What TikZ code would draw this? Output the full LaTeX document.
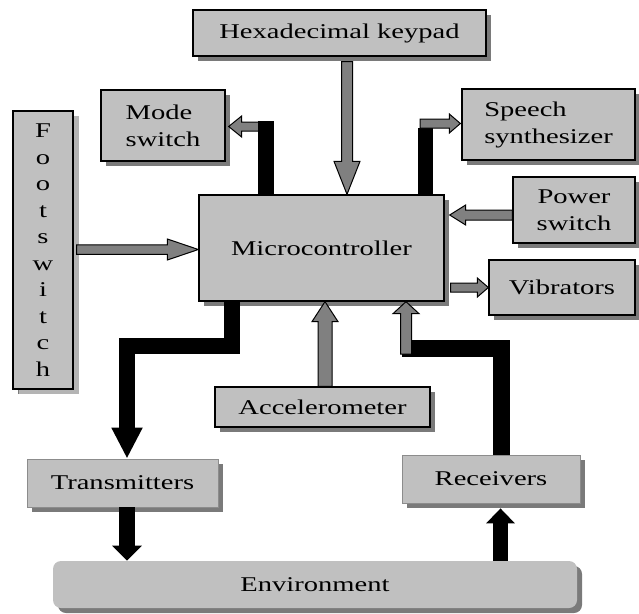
\documentclass[tikz,border=0pt]{standalone}
\usepackage{fontspec}
\setmainfont{Liberation Serif}
\usepackage{graphicx}
\usetikzlibrary{calc,shadows,arrows.meta}
\definecolor{boxgray}{HTML}{C0C0C0}
\definecolor{arrgray}{HTML}{808080}
\definecolor{shgray}{HTML}{7A7A7A}
\definecolor{dotgray}{HTML}{B4B4B4}
\newcommand{\wt}[1]{\scalebox{1.36}[1]{#1}}
% gray outlined block arrow: #1 from, #2 to, #3 half shaft width, #4 half head width, #5 head length
\newcommand{\garrow}[5]{%
  \path (#1) coordinate (ga-s) (#2) coordinate (ga-t);
  \path ($(ga-t)!#5!(ga-s)$) coordinate (ga-h);
  \filldraw[garrowstyle] ($(ga-s)!#3!90:(ga-t)$) -- ($(ga-h)!#3!90:(ga-t)$) -- ($(ga-h)!#4!90:(ga-t)$) -- (ga-t) -- ($(ga-h)!#4!-90:(ga-t)$) -- ($(ga-h)!#3!-90:(ga-t)$) -- ($(ga-s)!#3!-90:(ga-t)$) -- cycle;
}
\tikzset{
  box/.style={draw=black, line width=1.3pt, fill=boxgray, inner sep=0pt,
    font=\fontsize{21}{27}\selectfont,
    drop shadow={shadow xshift=5pt, shadow yshift=-5pt, fill=shgray, draw=none, opacity=1}},
  softbox/.style={box, draw=black!45, line width=0.8pt},
  blk/.style={line width=16pt, black, line join=miter, line cap=butt},
  garrowstyle/.style={fill=arrgray, draw=black, line width=1pt, line join=miter}
}
\begin{document}
\begin{tikzpicture}[x=1pt, y=-1pt]
\useasboundingbox (0,0) rectangle (639,613);

% boxes
\node[box, minimum width=293pt, minimum height=46pt] (hex) at (339.5,33) {\wt{Hexadecimal keypad}};
\node[box, minimum width=124pt, minimum height=71pt, align=left] (mode) at (163,125.5) {\wt{Mode}\\\wt{switch}};
\node[box, minimum width=60pt, minimum height=278pt, align=center, font=\fontsize{21}{26.5}\selectfont,
  drop shadow={shadow xshift=6pt, shadow yshift=-5pt, fill=dotgray, draw=none, opacity=1}] (foot) at (43,250)
  {\wt{F}\\\wt{o}\\\wt{o}\\\wt{t}\\\wt{s}\\\wt{w}\\\wt{i}\\\wt{t}\\\wt{c}\\\wt{h}};
\node[box, minimum width=245pt, minimum height=106pt] (micro) at (321.5,248) {\wt{Microcontroller}};
\node[box, minimum width=173pt, minimum height=71pt, align=left] (speech) at (548.5,124.5) {\wt{Speech}\\\wt{synthesizer}};
\node[box, minimum width=122pt, minimum height=66pt, align=center] (power) at (574,210) {\wt{Power}\\\wt{switch}};
\node[box, minimum width=146pt, minimum height=55pt] (vib) at (562,287.5) {\wt{Vibrators}};
\node[box, minimum width=215pt, minimum height=40pt] (accel) at (322.5,407) {\wt{Accelerometer}};
\node[softbox, minimum width=191pt, minimum height=48pt] (trans) at (122.5,483) {\wt{Transmitters}};
\node[softbox, minimum width=178pt, minimum height=48pt] (recv) at (491,479) {\wt{Receivers}};
\node[softbox, draw=none, rounded corners=8pt, minimum width=524pt, minimum height=47pt] (env) at (315,584.5) {\wt{Environment}};

% helper coordinates
\coordinate (xk) at (347,0);
\coordinate (xa) at (325,0);
\coordinate (xr) at (406,0);
\coordinate (xt) at (127,0);
\coordinate (xe) at (500.5,0);
\coordinate (xm) at (266,0);
\coordinate (xs) at (425.5,0);
\coordinate (yf) at (0,249.5);
\coordinate (yp) at (0,215);
\coordinate (yv) at (0,287.5);
\coordinate (ym) at (0,126.5);
\coordinate (ys) at (0,123.5);
\coordinate (mtop) at (266,121);
\coordinate (stop) at (425.5,128);
\coordinate (sg) at (420,123.5);
\coordinate (c1) at (232,346);
\coordinate (c2) at (127,346);
\coordinate (c3) at (501,348);
\coordinate (c4) at (402,348);
\coordinate (rg) at (406,354);

% black connectors
\draw[blk, -{Triangle[width=29pt,length=31pt]}] (micro.south -| c1) -- (c1) -- (c2) -- (trans.north -| c2);
\draw[blk, -{Triangle[width=29pt,length=15pt]}] (trans.south -| xt) -- (env.north -| xt);
\draw[blk, line width=15pt, shorten >=5pt, -{Triangle[width=28pt,length=15pt]}] (env.north -| xe) -- (recv.south -| xe);
\draw[blk, line width=17pt] (recv.north -| c3) -- (c3) -- (c4);
\draw[blk, line width=15pt] (micro.north -| xs) -- (stop);

% gray arrows
\garrow{$(hex.south -| xk)+(0,5)$}{micro.north -| xk}{5.5pt}{13pt}{33pt}
\garrow{$(foot.east |- yf)+(3,0)$}{micro.west |- yf}{4.75pt}{10.5pt}{31pt}
\garrow{xm |- ym}{$(mode.east |- ym)+(3,0)$}{4.5pt}{10.5pt}{13pt}
\draw[blk] (micro.north -| xm) -- (mtop);
\garrow{sg}{$(speech.west |- ys)+(-1,0)$}{4.5pt}{9.5pt}{11pt}
\garrow{power.west |- yp}{$(micro.east |- yp)+(5,0)$}{5pt}{10pt}{16pt}
\garrow{$(micro.east |- yv)+(6,0)$}{vib.west |- yv}{4.5pt}{9.5pt}{11pt}
\garrow{accel.north -| xa}{micro.south -| xa}{7pt}{13pt}{20pt}
\garrow{rg}{micro.south -| xr}{5.5pt}{13pt}{12pt}
\end{tikzpicture}
\end{document}
